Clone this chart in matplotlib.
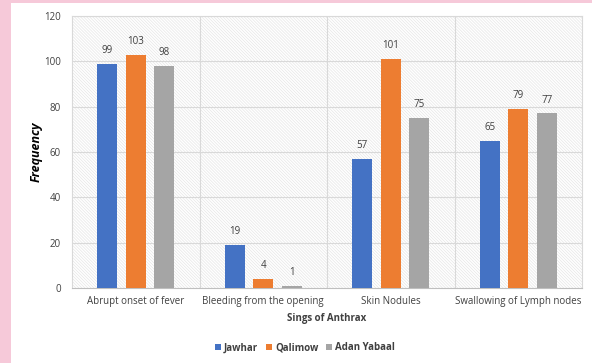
import numpy as np
import matplotlib
matplotlib.use('Agg')
import matplotlib.pyplot as plt
from matplotlib.patches import Rectangle

# data
categories = ["Abrupt onset of fever", "Bleeding from the opening",
              "Skin Nodules", "Swallowing of Lymph nodes"]
jawhar = [99, 19, 57, 65]
qalimow = [103, 4, 101, 79]
adan_yabaal = [98, 1, 75, 77]
series_names = ["Jawhar", "Qalimow", "Adan Yabaal"]
colors = ["#4472C4", "#ED7D31", "#A5A5A5"]

plt.rcParams['font.family'] = ['Open Sans', 'DejaVu Sans']
plt.rcParams['hatch.color'] = '#e6e6e6'
plt.rcParams['hatch.linewidth'] = 0.5

fig = plt.figure(figsize=(5.92, 3.63), dpi=100, facecolor='#f6c9d9')
# white panel
fig.patches.append(Rectangle((11/592, 0), 1 - 11/592, 1 - 3/363,
                             transform=fig.transFigure, facecolor='white',
                             edgecolor='none', zorder=-10))
ax = fig.add_axes([72/592, 1 - 288/363, 510/592, 272/363])
ax.set_facecolor('white')
ax.add_patch(Rectangle((0, 0), 1, 1, transform=ax.transAxes, facecolor='white',
                       hatch='\\' * 11, edgecolor='#e6e6e6', linewidth=0, zorder=0))

x = np.arange(len(categories))
width = 0.157
step = 0.224
all_vals = [jawhar, qalimow, adan_yabaal]
for i, (vals, name, c) in enumerate(zip(all_vals, series_names, colors)):
    bars = ax.bar(x + (i - 1) * step, vals, width, color=c, label=name, zorder=3)
    for b, v in zip(bars, vals):
        ax.text(b.get_x() + b.get_width() / 2, v + 3.5, str(v), ha='center',
                va='bottom', fontsize=7, color='#404040', zorder=4)

ax.set_xlim(-0.5, len(categories) - 0.5)
ax.set_ylim(0, 120)
ax.set_yticks(range(0, 121, 20))
for y in range(20, 121, 20):
    ax.axhline(y, color='#d9d9d9', lw=0.8, zorder=1)
for xb in np.arange(0.5, len(categories) - 0.5, 1):
    ax.axvline(xb, color='#d9d9d9', lw=0.8, zorder=1)

ax.set_xticks(x)
ax.set_xticklabels(categories, fontsize=7, color='#404040')
ax.tick_params(axis='y', labelsize=7, labelcolor='#404040', length=0, pad=8)
ax.tick_params(axis='x', length=0, pad=6)
for s in ax.spines.values():
    s.set_color('#d9d9d9')
    s.set_linewidth(0.8)
ax.spines['bottom'].set_color('#bfbfbf')

ax.set_xlabel("Sings of Anthrax", fontsize=7, fontweight='bold', color='#404040', labelpad=4)
ax.set_ylabel("Frequency", fontsize=9, fontweight='bold', style='italic', color='black', labelpad=1)

fig.legend(loc='center', bbox_to_anchor=(305/592, 1 - 348/363), ncol=3, frameon=False,
           handlelength=0.6, handleheight=0.6, handletextpad=0.3,
           columnspacing=0.8, prop={'weight': 'bold', 'size': 7})
for t in fig.legends[0].get_texts():
    t.set_color('#404040')

fig.savefig('out.png', dpi=100, facecolor=fig.get_facecolor())
